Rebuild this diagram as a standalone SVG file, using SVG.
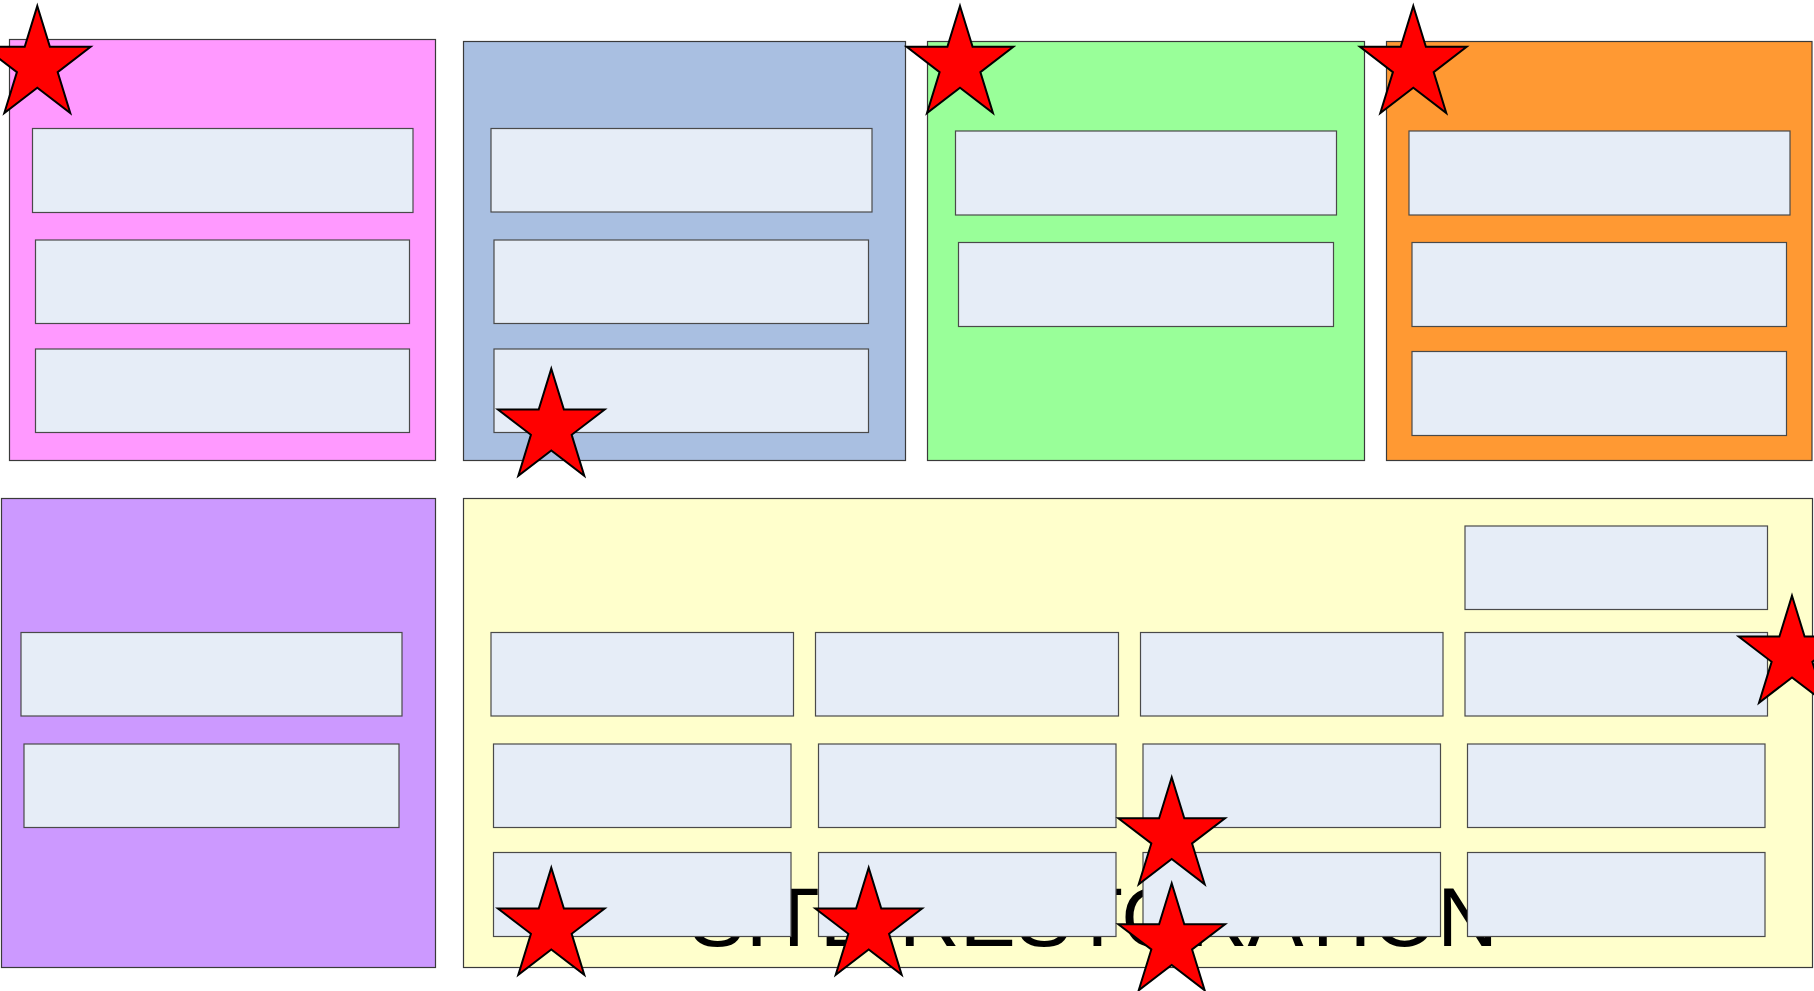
<svg xmlns="http://www.w3.org/2000/svg" xmlns:xlink="http://www.w3.org/1999/xlink" width="1814" height="991" viewBox="0 0 1814 991">
<style>
.panel{stroke:#3a3a3a;stroke-width:1.2}
.box{fill:#E6EDF7;stroke:#4a4a4a;stroke-width:1.2}
.star{fill:#FF0000;stroke:#000;stroke-width:2;stroke-linejoin:miter}
.title{font-family:"Liberation Sans",Arial,sans-serif;font-size:84px;fill:#000}
</style>
<defs>
<polygon id="star" class="star" points="53.35,0 65.94,40.87 106.7,40.87 73.73,66.13 86.32,107 53.35,81.74 20.38,107 32.97,66.13 0,40.87 40.76,40.87"/>
</defs>
<rect width="1814" height="991" fill="#FFFFFF"/>
<g id="panel-pink">
<rect class="panel" x="9.5" y="39.5" width="426" height="421" fill="#FF99FF"/>
<g id="pink-1"><rect class="box" x="32.5" y="128.5" width="380.5" height="84"/></g>
<g id="pink-2"><rect class="box" x="35.5" y="240" width="374" height="83.5"/></g>
<g id="pink-3"><rect class="box" x="35.5" y="349" width="374" height="83.5"/></g>
</g>
<g id="panel-blue">
<rect class="panel" x="463.5" y="41.5" width="442" height="419" fill="#A9BFE1"/>
<g id="blue-1"><rect class="box" x="491" y="128.5" width="381" height="83.5"/></g>
<g id="blue-2"><rect class="box" x="494" y="240" width="374.5" height="83.5"/></g>
<g id="blue-3"><rect class="box" x="494" y="349" width="374.5" height="83.5"/></g>
</g>
<g id="panel-green">
<rect class="panel" x="927.5" y="41.5" width="437" height="419" fill="#99FF99"/>
<g id="green-1"><rect class="box" x="955.5" y="131" width="381" height="84"/></g>
<g id="green-2"><rect class="box" x="958.5" y="242.5" width="375" height="84"/></g>
</g>
<g id="panel-orange">
<rect class="panel" x="1386.5" y="41.5" width="425.5" height="419" fill="#FF9933"/>
<g id="orange-1"><rect class="box" x="1409" y="131" width="381" height="84"/></g>
<g id="orange-2"><rect class="box" x="1412" y="242.5" width="374.5" height="84"/></g>
<g id="orange-3"><rect class="box" x="1412" y="351.5" width="374.5" height="84"/></g>
</g>
<g id="panel-purple">
<rect class="panel" x="1.5" y="498.5" width="434" height="469" fill="#CC99FF"/>
<g id="purple-1"><rect class="box" x="21" y="632.5" width="381" height="83.5"/></g>
<g id="purple-2"><rect class="box" x="24" y="744" width="375" height="83.5"/></g>
</g>
<g id="panel-yellow">
<rect class="panel" x="463.5" y="498.5" width="1349" height="469" fill="#FFFFCC"/>
<text class="title" x="689" y="946">SITE RESTORATION</text>
<g id="yellow-top"><rect class="box" x="1465" y="526" width="302.5" height="83.5"/></g>
<g id="yellow-r1c1"><rect class="box" x="491" y="632.5" width="302.5" height="83.5"/></g>
<g id="yellow-r1c2"><rect class="box" x="815.5" y="632.5" width="303" height="83.5"/></g>
<g id="yellow-r1c3"><rect class="box" x="1140.5" y="632.5" width="302.5" height="83.5"/></g>
<g id="yellow-r1c4"><rect class="box" x="1465" y="632.5" width="302.5" height="83.5"/></g>
<g id="yellow-r2c1"><rect class="box" x="493.5" y="744" width="297.5" height="83.5"/></g>
<g id="yellow-r2c2"><rect class="box" x="818.5" y="744" width="297.5" height="83.5"/></g>
<g id="yellow-r2c3"><rect class="box" x="1143" y="744" width="297.5" height="83.5"/></g>
<g id="yellow-r2c4"><rect class="box" x="1467.5" y="744" width="297.5" height="83.5"/></g>
<g id="yellow-r3c1"><rect class="box" x="493.5" y="852.5" width="297.5" height="84"/></g>
<g id="yellow-r3c2"><rect class="box" x="818.5" y="852.5" width="297.5" height="84"/></g>
<g id="yellow-r3c3"><rect class="box" x="1143" y="852.5" width="297.5" height="84"/></g>
<g id="yellow-r3c4"><rect class="box" x="1467.5" y="852.5" width="297.5" height="84"/></g>
</g>
<g id="connectors"></g>
<g id="stars">
<g id="star-1"><use href="#star" xlink:href="#star" x="-16.05" y="6"/></g>
<g id="star-2"><use href="#star" xlink:href="#star" x="497.95" y="368.7"/></g>
<g id="star-3"><use href="#star" xlink:href="#star" x="906.65" y="6"/></g>
<g id="star-4"><use href="#star" xlink:href="#star" x="1359.95" y="6"/></g>
<g id="star-5"><use href="#star" xlink:href="#star" x="497.95" y="867.7"/></g>
<g id="star-6"><use href="#star" xlink:href="#star" x="815.35" y="867.7"/></g>
<g id="star-7"><use href="#star" xlink:href="#star" x="1118.35" y="777.3"/></g>
<g id="star-8"><use href="#star" xlink:href="#star" x="1118.35" y="883.3"/></g>
<g id="star-9"><use href="#star" xlink:href="#star" x="1738.65" y="595.7"/></g>
</g>
</svg>
